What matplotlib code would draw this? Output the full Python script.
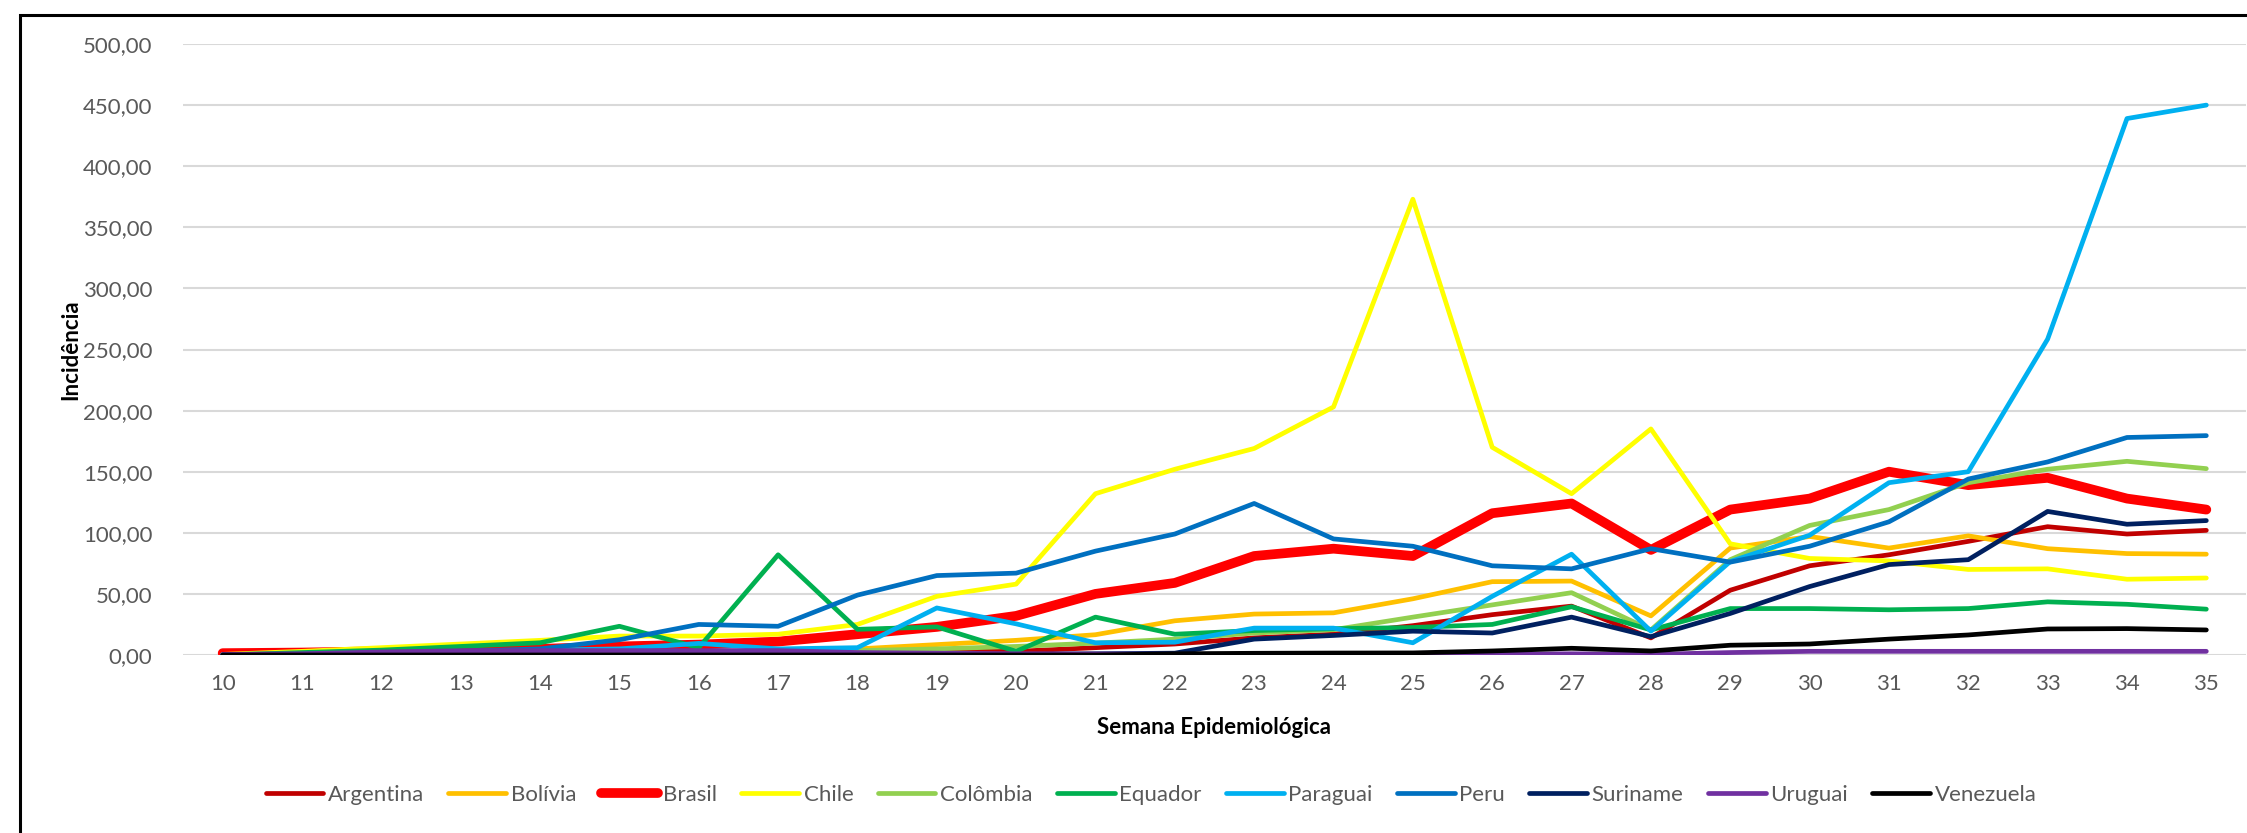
import matplotlib
matplotlib.use("Agg")
import matplotlib.pyplot as plt
from matplotlib.patches import Rectangle
from matplotlib.ticker import FuncFormatter, MultipleLocator

plt.rcParams['font.family'] = ['Lato', 'DejaVu Sans']

weeks = list(range(10, 36))

argentina = [0.3, 0.5, 0.8, 1, 1.5, 2, 2.5, 3, 3, 3, 3, 6, 9, 14, 17, 24, 33, 40, 14, 53, 73, 82, 93, 105, 99, 102]
bolivia = [0.2, 0.3, 0.5, 1, 1.5, 2, 2.5, 3, 5, 8.5, 12, 16.6, 28, 33.5, 34.5, 46, 60, 60.5, 32, 87.5, 97, 87.5, 97.5, 87, 83, 82.5]
brasil = [1.5, 2, 3, 4, 5, 7, 8.5, 11, 17, 23, 32, 50, 59, 81, 87, 81, 116, 124, 86, 119, 128, 150, 139, 145, 128, 119]
chile = [0.5, 3, 6, 9, 12, 15.5, 15.5, 17, 25, 48, 58, 132, 152, 169, 203, 373, 170, 132, 185, 91, 79, 77, 70, 70.5, 62, 63]
colombia = [0.2, 0.4, 0.6, 1, 1.5, 2, 2.5, 3, 3.6, 5, 7, 9.7, 13, 18, 20.7, 31, 41, 51, 20.5, 78, 106, 119, 141, 152, 158.5, 152.5]
equador = [0, 2, 4, 7, 10, 23.5, 6, 82, 21, 23, 3, 31, 17, 20, 21.5, 22.5, 25, 39.5, 20.5, 38, 38, 37, 38, 43.5, 41.5, 37.5]
paraguai = [0, 0.5, 1, 2, 4, 5, 9.5, 5, 6, 38.5, 25.5, 10, 10.5, 22, 22, 10, 48, 82.5, 19.5, 76.5, 98, 141, 150, 258.5, 439, 450]
peru = [0.3, 0.6, 1.5, 3, 5, 12.5, 25, 23.5, 49, 65, 67, 85, 99, 124, 95, 89, 73, 70.5, 87, 76, 89, 109, 144, 158, 178, 179.5]
suriname = [0, 0, 0, 0, 0, 0, 0.5, 0.5, 0.5, 0.5, 0.5, 1, 1.5, 13, 16, 19.5, 18, 31, 15, 34, 56, 74, 78, 117.5, 107, 110]
uruguai = [0.5, 1, 2.5, 3.5, 3.6, 3.6, 3.6, 3.6, 2, 1.5, 1, 0.8, 0.6, 0.5, 0.5, 0.5, 0.7, 1, 0.5, 2, 3, 3, 3, 3, 3, 3]
venezuela = [0, 0, 0, 0, 0, 0, 0, 0, 0, 0, 0, 0, 1, 1.4, 1.6, 1.7, 3.3, 5.5, 3.3, 8, 9, 13, 16.4, 21.3, 21.6, 20.5]

series_names = ["Argentina", "Bolívia", "Brasil", "Chile", "Colômbia", "Equador",
                "Paraguai", "Peru", "Suriname", "Uruguai", "Venezuela"]
series_values = [argentina, bolivia, brasil, chile, colombia, equador,
                 paraguai, peru, suriname, uruguai, venezuela]
colors = ["#C00000", "#FFC000", "#FF0000", "#FFFF00", "#92D050", "#00B050",
          "#00B0F0", "#0070C0", "#002060", "#7030A0", "#000000"]
widths = [3.4, 3.4, 7.0, 3.4, 3.4, 3.4, 3.4, 3.4, 3.4, 3.4, 3.4]

W, H = 2247, 833
fig = plt.figure(figsize=(W / 100, H / 100), dpi=100)
ax = fig.add_axes([183 / W, 1 - 655 / H, (2246 - 183) / W, (655 - 44) / H])

xpos = list(range(len(weeks)))
for i, (name, vals, c, lw) in enumerate(zip(series_names, series_values, colors, widths)):
    ax.plot(xpos, vals, color=c, lw=lw, label=name, solid_capstyle='round',
            solid_joinstyle='round', zorder=3 + i)

ax.set_xlim(-0.5, len(weeks) - 0.5)
ax.set_ylim(0, 500)
ax.yaxis.set_major_locator(MultipleLocator(50))
ax.yaxis.set_major_formatter(FuncFormatter(lambda v, p: f"{v:.2f}".replace('.', ',')))
ax.set_xticks(xpos)
ax.set_xticklabels([str(w) for w in weeks])
ax.grid(axis='y', color='#D9D9D9', lw=1.5, zorder=0)
ax.set_axisbelow(True)
for s in ax.spines.values():
    s.set_visible(False)
ax.tick_params(axis='both', length=0, labelsize=16, labelcolor='#595959')
ax.tick_params(axis='y', pad=22)
ax.tick_params(axis='x', pad=14)

fig.text(1214 / W, 1 - 727 / H, "Semana Epidemiológica", ha='center', va='center',
         fontsize=16, fontweight='bold', color='black')
fig.text(71 / W, 1 - 350 / H, "Incidência", ha='center', va='center', rotation=90,
         fontsize=16, fontweight='bold', color='black')

leg = fig.legend(loc='center', bbox_to_anchor=(1151 / W, 1 - 795 / H), ncol=11,
                 frameon=False, fontsize=16, handlelength=2.6, handletextpad=0.2,
                 columnspacing=1.1, labelcolor='#595959')
for line in leg.get_lines():
    line.set_solid_capstyle('round')

fig.patches.append(Rectangle((20 / W, -0.5), 2.0, 1.5 - 15 / H,
                             transform=fig.transFigure, fill=False,
                             edgecolor='black', lw=2.2, figure=fig))

fig.savefig("out.png", dpi=100, facecolor='white')
